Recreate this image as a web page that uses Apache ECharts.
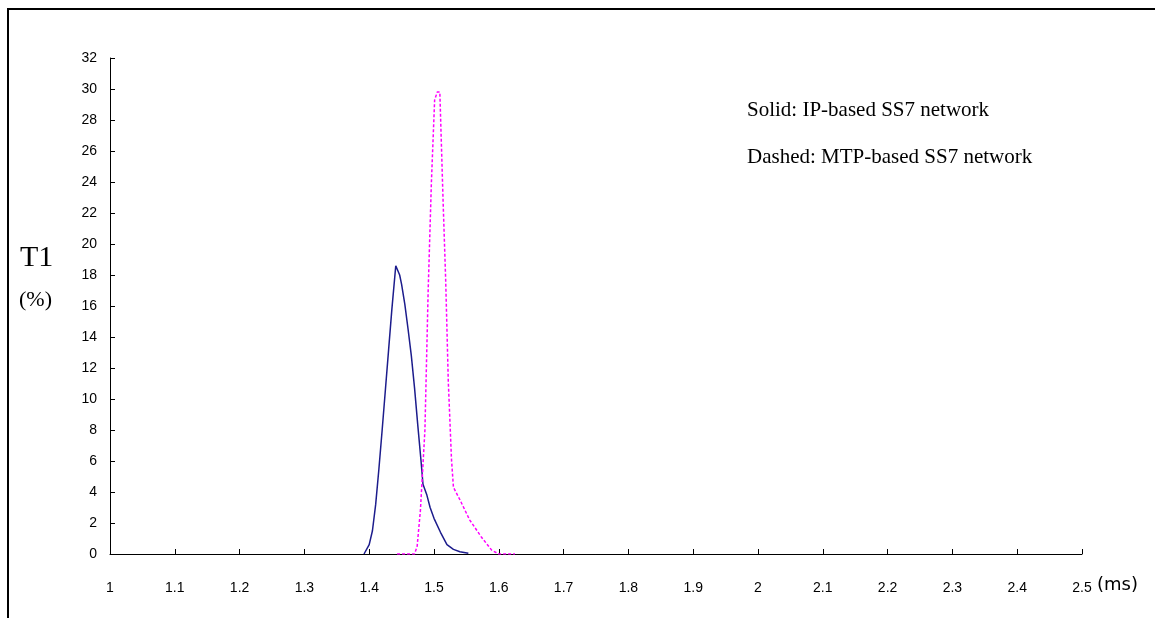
<!DOCTYPE html>
<html>
<head>
<meta charset="utf-8">
<script src="https://cdn.jsdelivr.net/npm/echarts@6/dist/echarts.min.js"></script>
<style>html,body{margin:0;padding:0;background:#fff}#c{width:1155px;height:618px}</style>
</head>
<body>
<div id="c"></div>
<script>
// IP-based SS7 network (solid)
const ipX = [1.392, 1.400, 1.405, 1.410, 1.415, 1.420, 1.425, 1.430, 1.435, 1.441, 1.447, 1.450, 1.455, 1.460, 1.465, 1.470, 1.475, 1.480, 1.483, 1.489, 1.494, 1.500, 1.510, 1.520, 1.530, 1.540, 1.553];
const ipY = [0, 0.6, 1.5, 3.2, 5.5, 8.0, 10.6, 13.2, 15.8, 18.6, 18.0, 17.4, 16.1, 14.5, 12.8, 10.7, 8.3, 6.0, 4.5, 3.8, 3.0, 2.3, 1.4, 0.6, 0.3, 0.15, 0.05];
// MTP-based SS7 network (dashed)
const mtpX = [1.443, 1.470, 1.474, 1.479, 1.486, 1.491, 1.496, 1.501, 1.505, 1.509, 1.514, 1.518, 1.522, 1.527, 1.530, 1.540, 1.555, 1.573, 1.589, 1.600, 1.625];
const mtpY = [0, 0, 0.5, 2.8, 8.0, 17.0, 24.0, 29.3, 29.8, 29.8, 22.8, 17.7, 11.2, 6.1, 4.3, 3.5, 2.2, 1.1, 0.25, 0, 0];
const xMin = 1, xMax = 2.5, xStep = 0.1;
const yMin = 0, yMax = 32, yStep = 2;

const pair = (xs, ys) => xs.map((x, i) => [x, ys[i]]);
const chart = echarts.init(document.getElementById('c'));
const tickFont = {fontFamily: 'Liberation Sans', fontSize: 14, color: '#000'};
chart.setOption({
  animation: false,
  backgroundColor: '#fff',
  grid: {left: 110, right: 73, top: 58, bottom: 64},
  xAxis: {
    type: 'value', min: xMin, max: xMax, interval: xStep,
    axisLine: {lineStyle: {color: '#000', width: 1}},
    axisTick: {inside: true, length: 5, lineStyle: {color: '#000'}},
    axisLabel: Object.assign({margin: 27, formatter: v => String(+v.toFixed(1))}, tickFont),
    splitLine: {show: false}
  },
  yAxis: {
    type: 'value', min: yMin, max: yMax, interval: yStep,
    axisLine: {show: true, lineStyle: {color: '#000', width: 1}},
    axisTick: {show: true, inside: true, length: 5, lineStyle: {color: '#000'}},
    axisLabel: Object.assign({margin: 13}, tickFont),
    splitLine: {show: false}
  },
  series: [
    {type: 'line', data: pair(ipX, ipY), showSymbol: false, lineStyle: {color: '#1c1c8c', width: 1.5}},
    {type: 'line', data: pair(mtpX, mtpY), showSymbol: false, lineStyle: {color: '#ff00ff', width: 1.5, type: [3, 2]}}
  ],
  graphic: [
    {type: 'line', shape: {x1: 7, y1: 9, x2: 1155, y2: 9}, style: {stroke: '#000', lineWidth: 2}},
    {type: 'line', shape: {x1: 8, y1: 9, x2: 8, y2: 618}, style: {stroke: '#000', lineWidth: 2}},
    {type: 'text', left: 20, top: 243, style: {text: 'T1', font: '30px "Liberation Serif"', fill: '#000'}},
    {type: 'text', left: 19, top: 289, style: {text: '(%)', font: '22px "Liberation Serif"', fill: '#000'}},
    {type: 'text', left: 1097, top: 576, style: {text: '(ms)', font: '18px "DejaVu Sans"', fill: '#000'}},
    {type: 'text', left: 747, top: 100, style: {text: 'Solid: IP-based SS7 network', font: '21px "Liberation Serif"', fill: '#000'}},
    {type: 'text', left: 747, top: 147, style: {text: 'Dashed: MTP-based SS7 network', font: '21px "Liberation Serif"', fill: '#000'}}
  ]
});
</script>
</body>
</html>
